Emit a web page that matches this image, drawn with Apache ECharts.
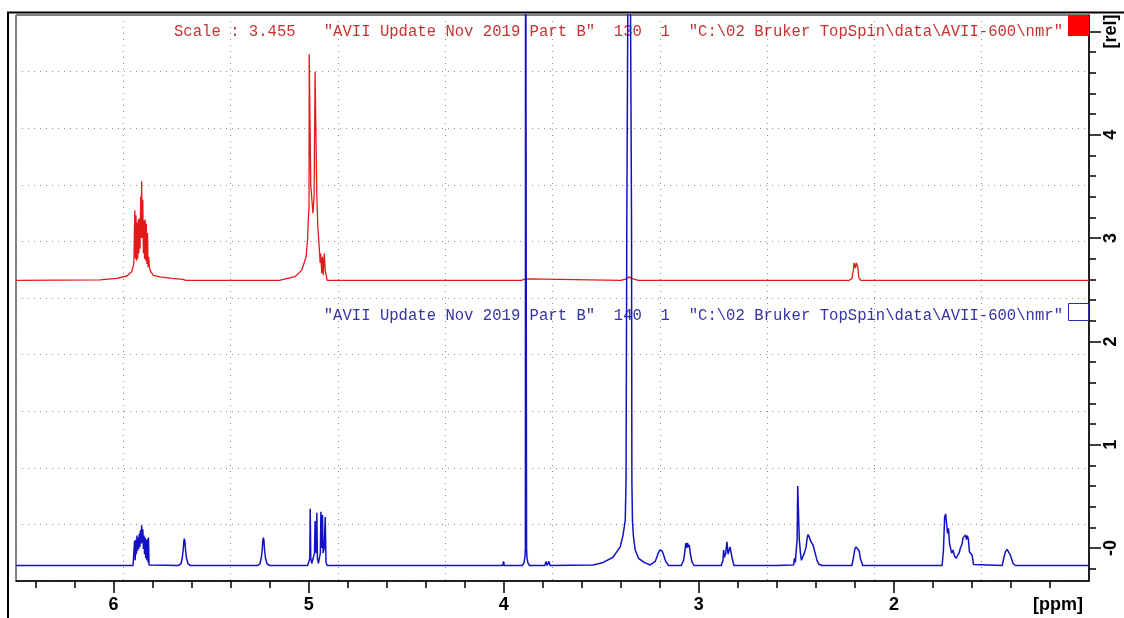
<!DOCTYPE html>
<html>
<head>
<meta charset="utf-8">
<script src="https://cdn.jsdelivr.net/npm/echarts@6/dist/echarts.min.js"></script>
<style>
  html, body { margin: 0; padding: 0; background: #fff; }
  #nmr_stack { width: 1124px; height: 618px; }
</style>
</head>
<body>
<div id="nmr_stack"></div>
<script>
// ppm / rel pairs
var redTrace = [
    [6.5, 2.59], [6.07, 2.595], [5.984, 2.61], [5.932, 2.633], [5.907, 2.675], [5.896, 2.75],
    [5.891, 3.27], [5.888, 2.80], [5.885, 3.22], [5.882, 2.78], [5.879, 3.15], [5.876, 2.80],
    [5.873, 3.18], [5.870, 2.85], [5.867, 3.19], [5.864, 2.90], [5.861, 3.40], [5.858, 3.00],
    [5.856, 3.55], [5.853, 3.00], [5.850, 3.37], [5.847, 2.85], [5.844, 3.17], [5.841, 2.80],
    [5.838, 3.18], [5.835, 2.78], [5.832, 3.14], [5.829, 2.75], [5.826, 3.05], [5.823, 2.72],
    [5.820, 2.82], [5.816, 2.71], [5.809, 2.675], [5.796, 2.64], [5.762, 2.625], [5.70, 2.61],
    [5.645, 2.60], [5.63, 2.59],
    [5.15, 2.59], [5.07, 2.626], [5.035, 2.69], [5.013, 2.82], [5.005, 3.0], [5.002, 3.175],
    [4.998, 3.3], [4.997, 4.78], [4.991, 4.78], [4.989, 3.51], [4.983, 3.51], [4.978, 3.24],
    [4.972, 3.40], [4.967, 4.61], [4.962, 4.61], [4.958, 3.40], [4.953, 3.11], [4.946, 2.92],
    [4.941, 2.76], [4.938, 2.85], [4.933, 2.66], [4.929, 2.82], [4.925, 2.64], [4.920, 2.85],
    [4.915, 2.69], [4.905, 2.59],
    [3.91, 2.59], [3.895, 2.60], [3.889, 2.615], [3.884, 2.60], [3.870, 2.605], [3.86, 2.59],
    [3.40, 2.59], [3.37, 2.605], [3.358, 2.625], [3.345, 2.61], [3.31, 2.59],
    [2.23, 2.59], [2.215, 2.61], [2.207, 2.70], [2.204, 2.76], [2.200, 2.75], [2.197, 2.71],
    [2.193, 2.76], [2.189, 2.77], [2.185, 2.72], [2.18, 2.62], [2.17, 2.59],
    [1.0, 2.59]
];

var blueTrace = [
    [6.5, -0.17], [5.90, -0.17], [5.895, -0.165],
    [5.892, 0.07], [5.889, -0.12], [5.886, 0.08], [5.883, -0.06], [5.880, 0.12], [5.877, -0.03],
    [5.874, 0.10], [5.871, -0.01], [5.868, 0.14], [5.865, 0.01], [5.862, 0.17], [5.859, 0.04],
    [5.856, 0.22], [5.853, 0.05], [5.850, 0.18], [5.847, -0.01], [5.844, 0.12], [5.841, -0.06],
    [5.838, 0.10], [5.835, -0.10], [5.832, 0.08], [5.829, -0.12], [5.826, 0.09], [5.823, -0.14],
    [5.821, 0.10], [5.818, -0.165],
    [5.668, -0.17], [5.655, -0.155], [5.648, -0.10], [5.643, -0.02], [5.640, 0.06], [5.637, 0.09],
    [5.634, 0.06], [5.631, -0.02], [5.626, -0.10], [5.618, -0.155], [5.605, -0.17],
    [5.262, -0.17], [5.250, -0.155], [5.243, -0.10], [5.238, -0.02], [5.235, 0.07], [5.232, 0.10],
    [5.229, 0.07], [5.226, -0.02], [5.221, -0.10], [5.213, -0.155], [5.20, -0.17],
    [5.005, -0.17], [4.997, -0.16], [4.994, -0.10], [4.992, 0.38], [4.989, -0.10], [4.984, -0.15],
    [4.976, -0.14], [4.970, -0.05], [4.967, 0.26], [4.964, 0.0], [4.961, -0.05], [4.958, 0.34],
    [4.955, -0.10], [4.950, -0.15], [4.943, -0.15], [4.940, -0.05], [4.937, 0.35], [4.934, 0.0],
    [4.931, 0.0], [4.929, 0.32], [4.926, -0.05], [4.920, 0.0], [4.915, 0.30], [4.911, -0.14],
    [4.905, -0.17],
    [4.005, -0.17], [4.001, -0.13], [3.997, -0.17],
    [3.905, -0.17], [3.895, -0.14], [3.891, -0.08], [3.889, 0.0], [3.888, 8], [3.884, 8],
    [3.883, 0.0], [3.881, -0.09], [3.876, -0.145], [3.868, -0.17],
    [3.79, -0.17], [3.783, -0.13], [3.778, -0.17], [3.768, -0.13], [3.763, -0.17],
    [3.54, -0.165], [3.49, -0.14], [3.44, -0.09], [3.403, 0.01], [3.389, 0.12], [3.377, 0.27],
    [3.373, 0.66], [3.369, 3.2], [3.357, 8], [3.350, 8], [3.345, 3.2], [3.343, 0.63],
    [3.340, 0.26], [3.335, 0.11], [3.326, -0.02], [3.309, -0.10], [3.28, -0.14], [3.25, -0.165],
    [3.223, -0.13], [3.21, -0.06], [3.20, -0.02], [3.194, -0.012], [3.188, -0.03], [3.18, -0.07],
    [3.17, -0.13], [3.155, -0.17],
    [3.09, -0.17], [3.078, -0.12], [3.072, -0.04], [3.067, 0.046], [3.062, 0.0], [3.058, 0.05],
    [3.054, 0.01], [3.049, 0.03], [3.044, -0.05], [3.036, -0.13], [3.025, -0.17],
    [2.885, -0.17], [2.876, -0.12], [2.873, -0.02], [2.868, -0.09], [2.862, -0.05], [2.856, 0.06],
    [2.850, -0.06], [2.846, -0.06], [2.840, 0.01], [2.835, 0.02], [2.829, -0.10], [2.82, -0.17],
    [2.603, -0.17], [2.600, -0.155], [2.597, -0.17],
    [2.514, -0.165], [2.510, -0.10], [2.505, -0.14], [2.502, -0.05], [2.496, 0.08], [2.493, 0.60],
    [2.488, 0.60], [2.485, 0.08], [2.479, -0.05], [2.474, -0.12], [2.466, -0.08], [2.459, -0.05],
    [2.450, 0.01], [2.445, 0.09], [2.440, 0.13], [2.435, 0.11], [2.430, 0.12], [2.425, 0.06],
    [2.418, 0.04], [2.413, 0.02], [2.408, -0.02], [2.401, -0.07], [2.394, -0.12], [2.386, -0.155],
    [2.369, -0.17],
    [2.215, -0.17], [2.207, -0.09], [2.200, -0.01], [2.194, 0.01], [2.189, 0.02], [2.184, 0.0],
    [2.178, -0.03], [2.172, -0.10], [2.16, -0.17],
    [1.753, -0.17], [1.746, -0.02], [1.740, 0.30], [1.735, 0.33], [1.730, 0.32], [1.725, 0.14],
    [1.720, 0.19], [1.715, 0.045], [1.709, 0.06], [1.704, -0.05], [1.697, -0.02], [1.689, -0.08],
    [1.680, -0.10], [1.673, -0.07], [1.666, -0.05], [1.659, 0.0], [1.652, 0.03], [1.645, 0.10],
    [1.638, 0.10], [1.633, 0.126], [1.628, 0.08], [1.623, 0.12], [1.618, 0.08], [1.613, -0.036],
    [1.606, -0.05], [1.599, -0.07], [1.592, -0.16], [1.582, -0.17],
    [1.445, -0.17], [1.437, -0.10], [1.428, -0.036], [1.420, -0.013], [1.411, -0.02],
    [1.403, -0.07], [1.389, -0.15], [1.377, -0.17],
    [1.285, -0.17], [1.283, -0.155], [1.280, -0.17], [1.275, -0.155], [1.272, -0.17],
    [1.267, -0.155], [1.264, -0.17],
    [1.0, -0.17]
];

var xLabelValues = [1, 2, 3, 4, 5, 6];
var xMajorTicks = [2, 3, 4, 5, 6];
var yLabelValues = [0, 1, 2, 3, 4, 5];

var redTitle = 'Scale : 3.455   "AVII Update Nov 2019 Part B"  130  1  "C:\\02 Bruker TopSpin\\data\\AVII-600\\nmr"';
var blueTitle = '"AVII Update Nov 2019 Part B"  140  1  "C:\\02 Bruker TopSpin\\data\\AVII-600\\nmr"';

var ppmMin = 1.0, ppmMax = 6.5;
var relMin = -0.32, relMax = 5.16;

function minorTicks(from, to) {
    var out = [];
    for (var i = Math.round(from * 5); i <= Math.round(to * 5); i++) {
        out.push(i / 5);
    }
    return out;
}

var monoFont = '15.6px "Liberation Mono", monospace';
var labelFont = 'Liberation Sans, Arial, sans-serif';
var gridDots = { color: '#8c8c8c', type: [1, 5], width: 1 };

var nmr_stack = echarts.init(document.getElementById('nmr_stack'));
function getNmrOption() {
    return {
        animation: false,
        backgroundColor: '#fff',
        grid: {
            left: 16,
            right: 35,
            top: 15,
            bottom: 37,
            show: true,
            borderColor: '#000',
            borderWidth: 1
        },
        xAxis: [
            {
                type: 'value',
                min: ppmMin,
                max: ppmMax,
                inverse: true,
                position: 'bottom',
                axisLine: { onZero: false, lineStyle: { color: '#000', width: 1.5 } },
                axisTick: {
                    customValues: minorTicks(1.2, 6.4),
                    length: 7,
                    lineStyle: { color: '#000', width: 1.5 }
                },
                axisLabel: {
                    customValues: xLabelValues,
                    margin: 15,
                    fontSize: 18,
                    fontWeight: 'bold',
                    fontFamily: labelFont,
                    color: '#000',
                    formatter: function (v) {
                        return v === 1 ? '{p|[ppm]}' : String(v);
                    },
                    rich: {
                        p: {
                            fontSize: 18,
                            fontWeight: 'bold',
                            fontFamily: labelFont,
                            color: '#000',
                            padding: [0, 62, 0, 0]
                        }
                    }
                },
                splitLine: { show: false }
            },
            {
                type: 'value',
                min: ppmMin,
                max: ppmMax,
                inverse: true,
                position: 'bottom',
                axisLine: { show: false, onZero: false },
                axisTick: {
                    customValues: xMajorTicks,
                    length: 12,
                    lineStyle: { color: '#000', width: 1.5 }
                },
                axisLabel: { show: false },
                splitLine: { show: false }
            },
            {
                type: 'value',
                min: 0,
                max: 10,
                interval: 1,
                position: 'top',
                axisLine: { show: false, onZero: false },
                axisTick: { show: false },
                axisLabel: { show: false },
                splitLine: { show: true, lineStyle: gridDots }
            }
        ],
        yAxis: [
            {
                type: 'value',
                min: relMin,
                max: relMax,
                position: 'right',
                axisLine: { show: true, onZero: false, lineStyle: { color: '#000', width: 1.5 } },
                axisTick: {
                    show: true,
                    customValues: minorTicks(-0.2, 5.0),
                    length: 7,
                    lineStyle: { color: '#000', width: 1.5 }
                },
                axisLabel: {
                    customValues: yLabelValues,
                    rotate: 90,
                    margin: 13,
                    fontSize: 18,
                    fontWeight: 'bold',
                    fontFamily: labelFont,
                    color: '#000',
                    formatter: function (v) {
                        if (v === 5) return '[rel]';
                        if (v === 0) return '-0';
                        return String(v);
                    }
                },
                splitLine: { show: false }
            },
            {
                type: 'value',
                min: relMin,
                max: relMax,
                position: 'right',
                axisLine: { show: false, onZero: false },
                axisTick: {
                    show: true,
                    customValues: yLabelValues,
                    length: 12,
                    lineStyle: { color: '#000', width: 1.5 }
                },
                axisLabel: { show: false },
                splitLine: { show: false }
            },
            {
                type: 'value',
                min: 0,
                max: 10,
                interval: 1,
                position: 'left',
                axisLine: { show: false, onZero: false },
                axisTick: { show: false },
                axisLabel: { show: false },
                splitLine: { show: true, lineStyle: gridDots }
            }
        ],
        graphic: [
            {
                type: 'text',
                z: 1,
                style: {
                    text: redTitle,
                    x: 1063,
                    y: 32,
                    align: 'right',
                    verticalAlign: 'middle',
                    font: monoFont,
                    fill: '#c83232'
                }
            },
            {
                type: 'text',
                z: 1,
                style: {
                    text: blueTitle,
                    x: 1063,
                    y: 316,
                    align: 'right',
                    verticalAlign: 'middle',
                    font: monoFont,
                    fill: '#3434a6'
                }
            },
            {
                type: 'rect',
                z: 10,
                shape: { x: 1068, y: 15, width: 21, height: 21 },
                style: { fill: '#ff0000' }
            },
            {
                type: 'rect',
                z: 10,
                shape: { x: 1068.5, y: 303.5, width: 20, height: 17 },
                style: { fill: 'none', stroke: '#2b2bb0', lineWidth: 1 }
            },
            {
                type: 'line',
                z: 10,
                shape: { x1: 7, y1: 12.5, x2: 1124, y2: 12.5 },
                style: { stroke: '#000', lineWidth: 2 }
            },
            {
                type: 'line',
                z: 10,
                shape: { x1: 8, y1: 12, x2: 8, y2: 618 },
                style: { stroke: '#000', lineWidth: 2 }
            }
        ],
        series: [
            {
                name: 'red',
                type: 'line',
                xAxisIndex: 0,
                yAxisIndex: 0,
                data: redTrace,
                symbol: 'none',
                clip: true,
                lineStyle: { color: '#e31a1a', width: 1.3 },
                z: 3
            },
            {
                name: 'blue',
                type: 'line',
                xAxisIndex: 0,
                yAxisIndex: 0,
                data: blueTrace,
                symbol: 'none',
                clip: true,
                lineStyle: { color: '#1212c4', width: 1.5 },
                z: 4
            }
        ]
    };
}

function resizeNmrChart() {
    nmr_stack.setOption(getNmrOption());
    nmr_stack.resize();
}
nmr_stack.setOption(getNmrOption());
window.addEventListener('resize', resizeNmrChart);
</script>
</body>
</html>
